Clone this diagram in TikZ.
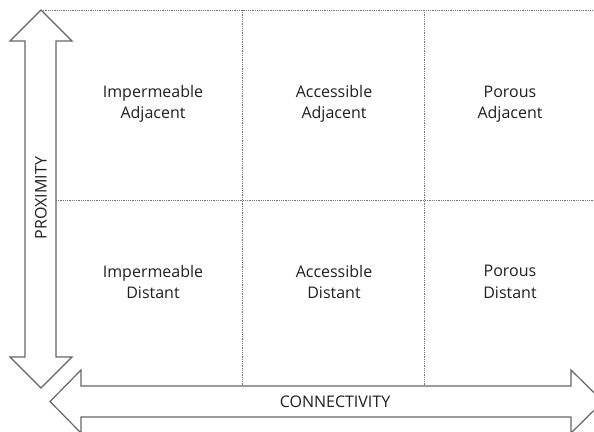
\documentclass[tikz,border=0pt]{standalone}
\usepackage{fontspec}
\setmainfont{Open Sans}
\begin{document}
\begin{tikzpicture}[x=1pt, y=-1pt]
	\tikzset{cellule/.style={align=center, text=black!88, font=\fontsize{16}{21.5}\selectfont},
		fleche/.style={draw=black!60, line width=1.2pt, line join=miter, fill=white},
		grille/.style={draw=black!55, densely dotted, line width=0.8pt}};

	\useasboundingbox (0,0) rectangle (594,431);
	\clip (0,0) rectangle (594,431);

	% grid
	\draw[grille] (41,10) -- (594,10);
	\draw[grille] (56,200) -- (594,200);
	\draw[grille] (242,10) -- (242,386);
	\draw[grille] (424,10) -- (424,386);

	% arrows
	\draw[fleche] (41,10) -- (72,41) -- (56,41) -- (56,357) -- (72,357) -- (41,388)
		-- (10,357) -- (25,357) -- (25,41) -- (10,41) -- cycle;
	\draw[fleche] (50,401.5) -- (81,370) -- (81,386) -- (571,386) -- (571,370) -- (603,401.5)
		-- (571,433) -- (571,417) -- (81,417) -- (81,433) -- cycle;

	\node[cellule, rotate=90] (prox) at (41,198) {PROXIMITY};
	\node[cellule] (conn) at (335,402) {CONNECTIVITY};

	\node[cellule] (ia) at (153,104) {Impermeable\\Adjacent};
	\node[cellule] (aa) at (334,104) {Accessible\\Adjacent};
	\node[cellule] (pa) at (510,104) {Porous\\Adjacent};
	\node[cellule] (id) at (153,282) {Impermeable\\Distant};
	\node[cellule] (ad) at (334,282) {Accessible\\Distant};
	\node[cellule] (pd) at (510,282) {Porous\\Distant};

\end{tikzpicture}
\end{document}
